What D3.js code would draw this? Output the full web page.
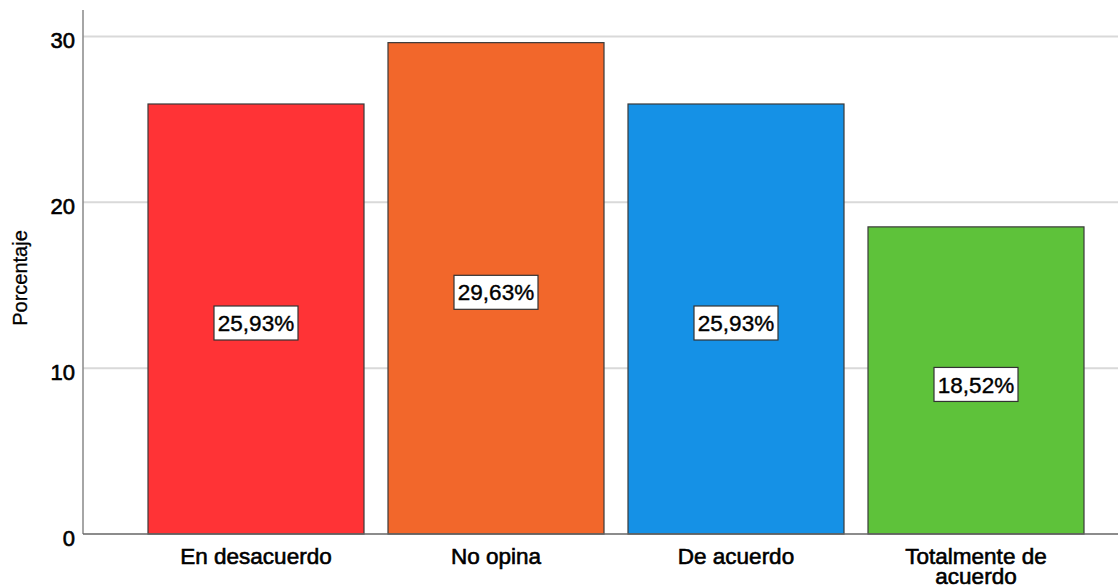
<!DOCTYPE html>
<html><head><meta charset="utf-8">
<script src="https://cdn.jsdelivr.net/npm/d3@7"></script>
<style>body{margin:0;background:#fff}svg{display:block}text{font-family:"Liberation Sans",Arial,sans-serif}</style>
</head><body><svg id="c" width="1118" height="588"></svg>
<script>
const categories = ["En desacuerdo", "No opina", "De acuerdo", "Totalmente de acuerdo"];
const values = [25.93, 29.63, 25.93, 18.52];
const valueLabels = ["25,93%", "29,63%", "25,93%", "18,52%"];
const colors = ["#FF3336", "#F2672B", "#1591E6", "#5EC23A"];
const yTicks = [0, 10, 20, 30];

const svg = d3.select("#c");
const x = d3.scaleBand().domain(categories).range([136, 1096]).paddingInner(0.1).paddingOuter(0.05);
const y = d3.scaleLinear().domain([0, 30]).range([534, 36.5]);

// gridlines
svg.append("g").selectAll("line").data(yTicks.filter(d => d > 0)).join("line")
  .attr("x1", 83).attr("x2", 1118).attr("y1", d => y(d)).attr("y2", d => y(d))
  .attr("stroke", "#d9d9d9").attr("stroke-width", 2);

// bars
svg.append("g").selectAll("rect").data(categories).join("rect")
  .attr("x", d => x(d)).attr("width", x.bandwidth())
  .attr("y", (d, i) => y(values[i])).attr("height", (d, i) => y(0) - y(values[i]))
  .attr("fill", (d, i) => colors[i]).attr("stroke", "#3a3a3a").attr("stroke-width", 1.2);

// y axis
const yAxis = d3.axisLeft(y).tickValues(yTicks).tickSize(0).tickPadding(8);
const ga = svg.append("g").attr("transform", "translate(83,0)").call(yAxis);
ga.select(".domain").remove();
ga.selectAll("text").attr("font-size", 22).attr("fill", "#000").attr("stroke", "#000").attr("stroke-width", 0.6)
  .attr("font-family", "Liberation Sans, Arial, sans-serif").attr("dy", "0.5em").attr("x", -8);
svg.append("line").attr("x1", 83).attr("x2", 83).attr("y1", 10).attr("y2", 534).attr("stroke", "#888").attr("stroke-width", 1.5);
svg.append("line").attr("x1", 83).attr("x2", 1118).attr("y1", 534).attr("y2", 534).attr("stroke", "#666").attr("stroke-width", 1.5);

// x axis labels
const gx = svg.append("g");
categories.forEach((c, i) => {
  const lines = c === "Totalmente de acuerdo" ? ["Totalmente de", "acuerdo"] : [c];
  lines.forEach((l, j) => gx.append("text").attr("x", x(c) + x.bandwidth() / 2).attr("y", 564 + j * 20)
    .attr("text-anchor", "middle").attr("font-size", 22.5).attr("fill", "#000").attr("stroke", "#000")
    .attr("stroke-width", 0.6).text(l));
});

// y axis title
svg.append("text").attr("transform", "translate(27,278) rotate(-90)").attr("text-anchor", "middle")
  .attr("font-size", 20).attr("fill", "#000").attr("stroke", "#000").attr("stroke-width", 0.3).text("Porcentaje");

// value labels
const gl = svg.append("g");
categories.forEach((c, i) => {
  const cx = x(c) + x.bandwidth() / 2;
  const cy = y(values[i] / 2) + 4;
  gl.append("rect").attr("x", cx - 42).attr("y", cy - 17).attr("width", 84).attr("height", 34)
    .attr("fill", "#fff").attr("stroke", "#333").attr("stroke-width", 1.2);
  gl.append("text").attr("x", cx).attr("y", cy).attr("dy", "0.36em").attr("text-anchor", "middle")
    .attr("font-size", 22.5).attr("fill", "#000").attr("stroke", "#000").attr("stroke-width", 0.4).text(valueLabels[i]);
});
</script></body></html>
